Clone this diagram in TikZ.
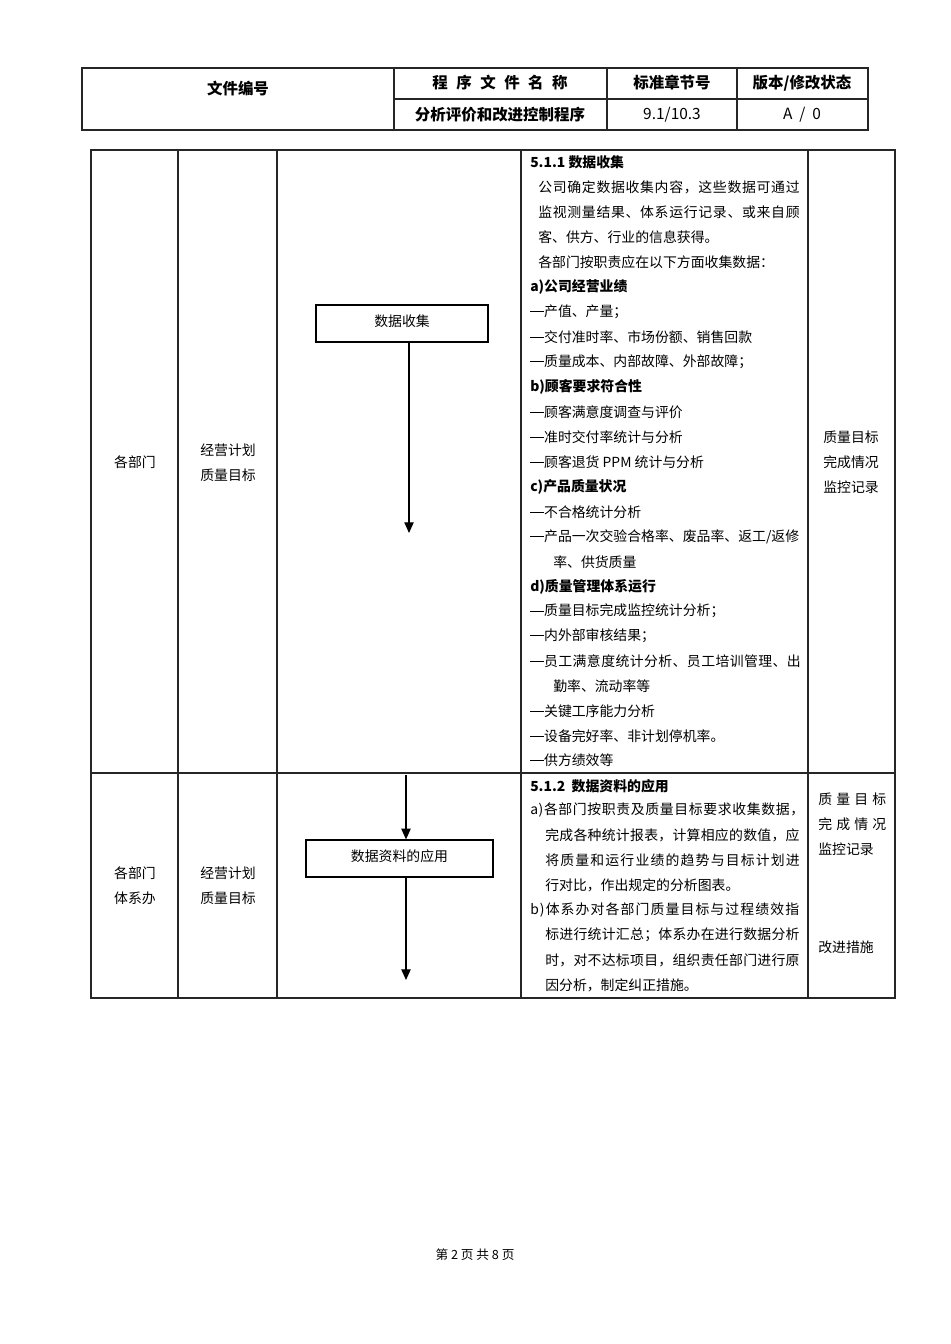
\documentclass[tikz,border=0pt]{standalone}
\usepackage{fontspec}
\setmainfont{Noto Sans CJK SC}
\usetikzlibrary{arrows.meta}
\newcommand\dsh{\rule[0.32em]{0.96em}{0.06em}\hspace{0.04em}}
\newcommand\lsp[2]{{\addfontfeature{LetterSpace=#1}#2}}
\tikzset{
  grid/.style={line width=0.8pt, black!85},
  hgrid/.style={line width=1.1pt, black!85},
  txt/.style={anchor=west, inner sep=0pt, font=\fontsize{10.4pt}{12pt}\selectfont},
  btxt/.style={txt, font=\fontsize{10.4pt}{12pt}\selectfont\bfseries},
  ctxt/.style={anchor=center, inner sep=0pt, font=\fontsize{10.4pt}{12pt}\selectfont},
  htxt/.style={anchor=center, inner sep=0pt, font=\fontsize{11.6pt}{13pt}\selectfont\bfseries},
  flowbox/.style={draw, line width=0.9pt, rectangle, inner sep=0pt, font=\fontsize{10.4pt}{12pt}\selectfont},
  arr/.style={line width=0.9pt, -{Triangle[length=8pt,width=7pt]}},
}
\begin{document}
\begin{tikzpicture}[x=0.75pt,y=-0.75pt]
\useasboundingbox (0,0) rectangle (950,1344);
% header table
\draw[hgrid] (82,68) rectangle (868,130);
\draw[hgrid] (394,68) -- (394,130);
\draw[hgrid] (607,68) -- (607,130);
\draw[hgrid] (737,68) -- (737,130);
\draw[hgrid] (394,99) -- (868,99);
\node[htxt] (h1) at (238,89) {文件编号};
\node[htxt] (h2) at (500,83) {程\hspace{0.55em}序\hspace{0.55em}文\hspace{0.55em}件\hspace{0.55em}名\hspace{0.55em}称};
\node[htxt] (h3) at (672,83) {标准章节号};
\node[htxt] (h4) at (802,83) {版本/修改状态};
\node[htxt] (h5) at (500,115) {分析评价和改进控制程序};
\node[htxt, font=\fontsize{11.6pt}{13pt}\selectfont] (h6) at (672,115) {9.1/10.3};
\node[htxt, font=\fontsize{11.6pt}{13pt}\selectfont] (h7) at (802,115) {A \ / \ 0};
% main table
\draw[grid] (91,150) rectangle (895,998);
\draw[grid] (178,150) -- (178,998);
\draw[grid] (277,150) -- (277,998);
\draw[grid] (521,150) -- (521,998);
\draw[grid] (808,150) -- (808,998);
\draw[grid] (91,773) -- (895,773);
% column 1 / 2, row 1
\node[ctxt] (r1a) at (135,462) {各部门};
\node[ctxt] (r1b) at (228,450) {经营计划};
\node[ctxt] (r1c) at (228,475) {质量目标};
% row 2
\node[ctxt] (r2a) at (135,873) {各部门};
\node[ctxt] (r2b) at (135,898) {体系办};
\node[ctxt] (r2c) at (228,873) {经营计划};
\node[ctxt] (r2d) at (228,898) {质量目标};
% flow
\node[flowbox, minimum width=172*0.75pt, minimum height=37*0.75pt] (box1) at (402,323.5) {\raisebox{4pt}{数据收集}};
\coordinate (e1) at (409,533);
\draw[arr] (box1.south -| e1) -- (e1);
\node[flowbox, minimum width=187*0.75pt, minimum height=37*0.75pt] (box2) at (399.5,858.5) {\raisebox{4pt}{数据资料的应用}};
\coordinate (s2) at (406,775);
\coordinate (e3) at (406,980);
\draw[arr] (s2) -- (s2 |- box2.north);
\draw[arr] (box2.south -| e3) -- (e3);
% row 1 description
\node[btxt] (t1) at (530,162) {5.1.1 数据收集};
\node[txt] (t2) at (538,187) {\lsp{5}{公司确定数据收集内容，这些数据可通过}};
\node[txt] (t3) at (538,212) {\lsp{5}{监视测量结果、体系运行记录、或来自顾}};
\node[txt] (t4) at (538,237) {客、供方、行业的信息获得。};
\node[txt] (t5) at (538,262) {各部门按职责应在以下方面收集数据：};
\node[btxt] (t6) at (530,287) {a)公司经营业绩};
\node[txt] (t7) at (530,312) {\dsh 产值、产量；};
\node[txt] (t8) at (530,337) {\dsh 交付准时率、市场份额、销售回款};
\node[txt] (t9) at (530,362) {\dsh 质量成本、内部故障、外部故障；};
\node[btxt] (t10) at (530,387) {b)顾客要求符合性};
\node[txt] (t11) at (530,412) {\dsh 顾客满意度调查与评价};
\node[txt] (t12) at (530,437) {\dsh 准时交付率统计与分析};
\node[txt] (t13) at (530,462) {\dsh 顾客退货 PPM 统计与分析};
\node[btxt] (t14) at (530,487) {c)产品质量状况};
\node[txt] (t15) at (530,512) {\dsh 不合格统计分析};
\node[txt] (t16) at (530,537) {\dsh 产品一次交验合格率、废品率、返工/返修};
\node[txt] (t17) at (553,562) {率、供货质量};
\node[btxt] (t18) at (530,587) {d)质量管理体系运行};
\node[txt] (t19) at (530,611) {\dsh 质量目标完成监控统计分析；};
\node[txt] (t20) at (530,636) {\dsh 内外部审核结果；};
\node[txt] (t21) at (530,661) {\dsh\lsp{3}{员工满意度统计分析、员工培训管理、出}};
\node[txt] (t22) at (553,686) {勤率、流动率等};
\node[txt] (t23) at (530,711) {\dsh 关键工序能力分析};
\node[txt] (t24) at (530,736) {\dsh 设备完好率、非计划停机率。};
\node[txt] (t25) at (530,760) {\dsh 供方绩效等};
% row 1 records
\node[txt] (q1) at (823,437) {质量目标};
\node[txt] (q2) at (823,462) {完成情况};
\node[txt] (q3) at (823,487) {监控记录};
% row 2 description
\node[btxt] (u1) at (530,786) {5.1.2 \ 数据资料的应用};
\node[txt] (u2) at (530,810) {\lsp{4.5}{a)各部门按职责及质量目标要求收集数据，}};
\node[txt] (u3) at (545,835) {\lsp{2}{完成各种统计报表，计算相应的数值，应}};
\node[txt] (u4) at (545,860) {\lsp{8.5}{将质量和运行业绩的趋势与目标计划进}};
\node[txt] (u5) at (545,885) {行对比，作出规定的分析图表。};
\node[txt] (u6) at (530,910) {\lsp{8}{b)体系办对各部门质量目标与过程绩效指}};
\node[txt] (u7) at (545,935) {\lsp{2}{标进行统计汇总；体系办在进行数据分析}};
\node[txt] (u8) at (545,960) {\lsp{2}{时，对不达标项目，组织责任部门进行原}};
\node[txt] (u9) at (545,985) {因分析，制定纠正措施。};
% row 2 records
\node[txt, text width=68*0.75pt] (p1) at (818,799) {质\hfill 量\hfill 目\hfill 标};
\node[txt, text width=68*0.75pt] (p2) at (818,824) {完\hfill 成\hfill 情\hfill 况};
\node[txt] (p3) at (818,849) {监控记录};
\node[txt] (p4) at (818,947) {改进措施};
% footer
\node[ctxt, font=\fontsize{9.5pt}{11pt}\selectfont] (foot) at (475,1255) {第 2 页 共 8 页};
\end{tikzpicture}
\end{document}
